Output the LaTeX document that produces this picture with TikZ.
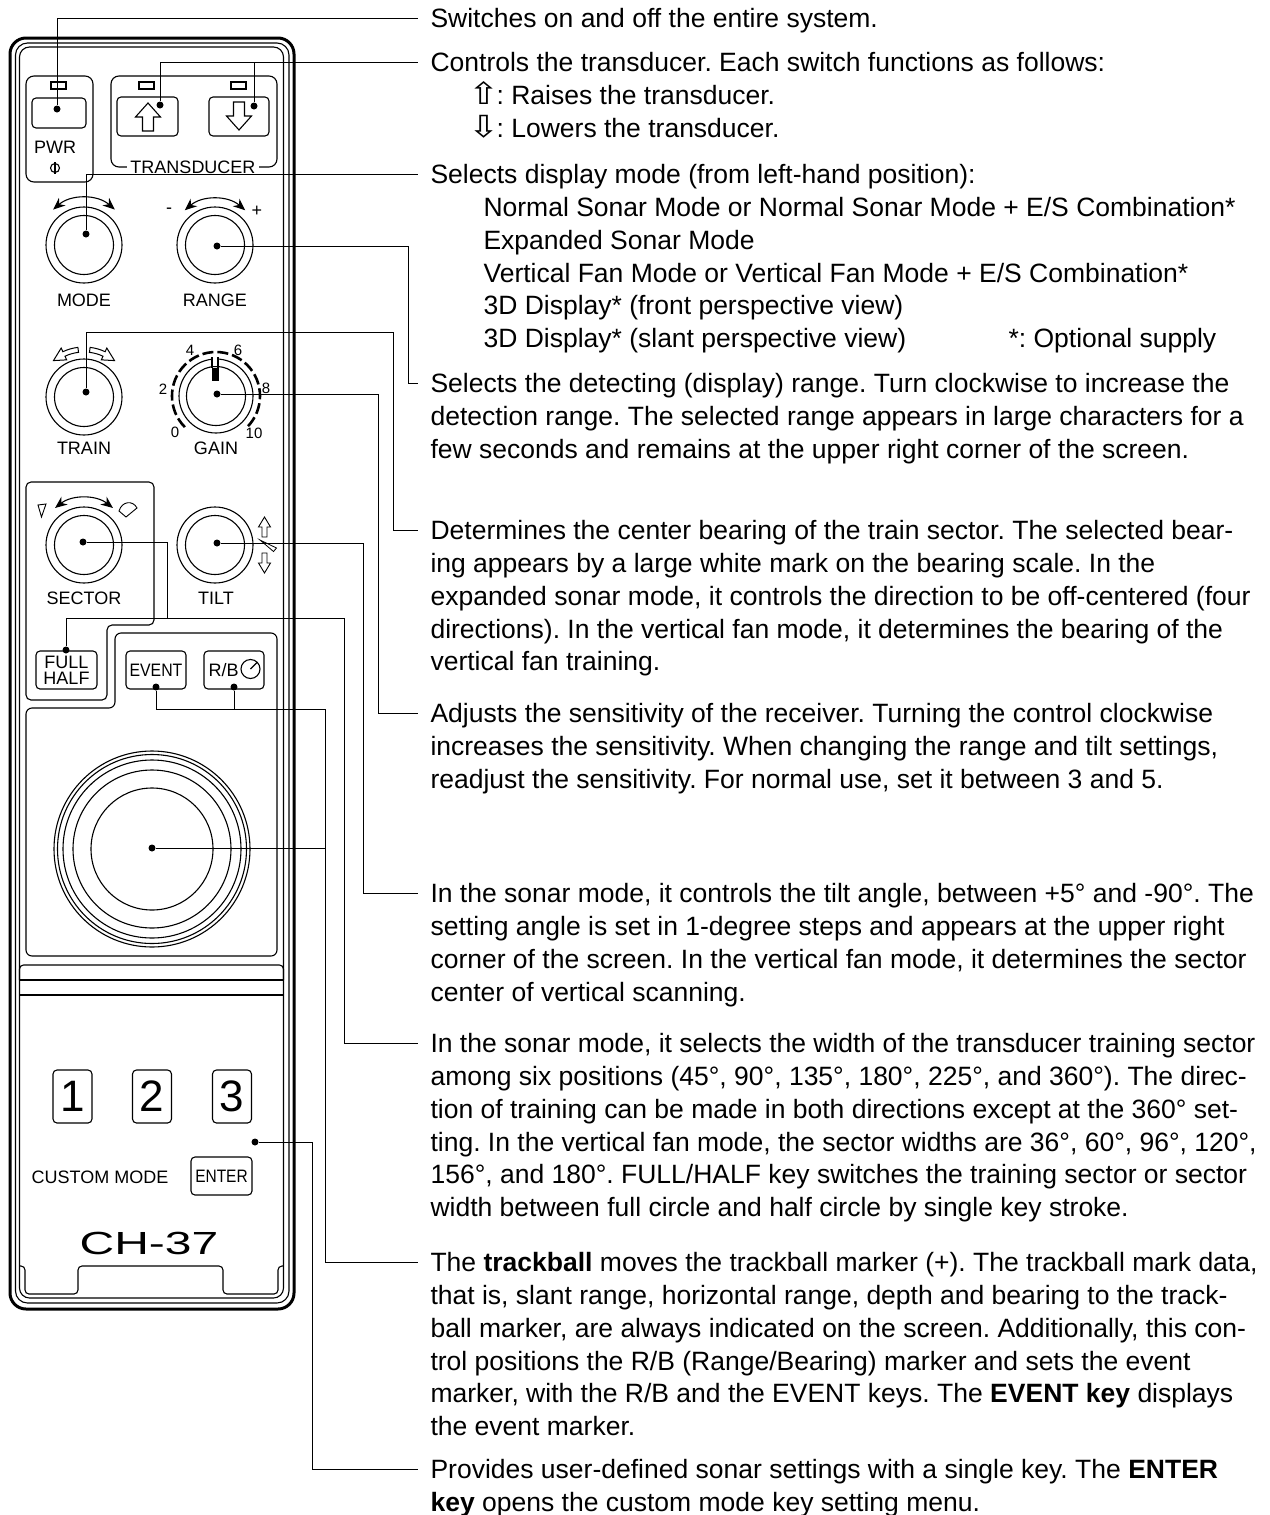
\documentclass[tikz,border=0pt]{standalone}
\usepackage{fontspec}
\setmainfont{Liberation Sans}
\newfontfamily\dejavu{DejaVu Sans}
\usetikzlibrary{arrows.meta,positioning}
\newcommand\lblfont{\fontsize{18}{16}\selectfont}
\newcommand\numfont{\fontsize{15}{15}\selectfont}
\newcommand\bigfont{\fontsize{44}{44}\selectfont}
\newcommand\modelfont{\fontsize{32}{32}\selectfont}
\newcommand\infofont{\fontsize{26.5}{32.8}\selectfont}
\newcommand\uparr{\scalebox{1.4}[1.15]{\dejavu ⇧}\kern-3pt}
\newcommand\downarr{\scalebox{1.4}[1.15]{\dejavu ⇩}\kern-3pt}
\frenchspacing

\begin{document}
\begin{tikzpicture}[x=1pt,y=-1pt,line width=1.1pt,
    dot/.style={circle,fill,inner sep=0pt,minimum size=7pt},
    key/.style={draw,rounded corners=4pt,inner sep=0pt,font=\lblfont},
    led/.style={draw,inner sep=0pt,minimum width=15pt,minimum height=7pt},
    lbl/.style={inner sep=0pt,font=\lblfont},
    num/.style={inner sep=0pt,font=\numfont},
    info/.style={anchor=north west,align=left,inner sep=0pt,font=\infofont},
    lead/.style={line width=1pt},
    turn/.style={{Stealth[length=12pt,width=10pt]}-{Stealth[length=12pt,width=10pt]}}]
  \useasboundingbox (0,0) rectangle (1269,1515);

  % casing
  \draw[line width=3pt,rounded corners=16pt] (10,38) rectangle (294,1309);
  \draw[rounded corners=12pt] (15.5,43) rectangle (289,1303);
  \draw[rounded corners=10pt] (19.5,47) rectangle (283.5,1298);
  \draw[rounded corners=4pt] (19.5,1266) -- (25,1266) -- (25,1294) -- (78,1294) -- (78,1266)
    -- (223,1266) -- (223,1294) -- (278,1294) -- (278,1266) -- (283.5,1266);
  \draw[rounded corners=4pt] (19.5,980) -- (19.5,965) -- (283.5,965) -- (283.5,980);
  \draw (19.5,980) -- (283.5,980) (19.5,995) -- (283.5,995);

  % power and transducer
  \draw[rounded corners=8pt] (26,76) rectangle (93,182);
  \node[led] (ledPwr) at (58.5,85.5) {};
  \node[key,minimum width=54pt,minimum height=30pt] (pwr) at (59,113) {};
  \node[lbl] (lPwr) at (55,147) {PWR};
  \draw (55,168) circle[radius=4.5];
  \draw[line width=1.5pt] (55,162) -- (55,174);
  \draw[rounded corners=8pt] (111,76) rectangle (277,167);
  \node[lbl,fill=white,inner xsep=3pt] (lTd) at (193,167) {TRANSDUCER};
  \node[led] (ledUp) at (146.5,85.5) {};
  \node[led] (ledDown) at (238.5,85.5) {};
  \node[key,minimum width=61pt,minimum height=39pt] (up) at (147.5,116.5) {};
  \node[key,minimum width=60pt,minimum height=39pt] (down) at (239,116.5) {};
  \draw (148,103) -- (160.5,117) -- (153.5,117) -- (153.5,131) -- (142.5,131) -- (142.5,117) -- (135.5,117) -- cycle;
  \draw (239,130) -- (251.5,116) -- (244.5,116) -- (244.5,102) -- (233.5,102) -- (233.5,116) -- (226.5,116) -- cycle;

  % knobs
  \foreach \cx/\cy/\ro in {84/245/38, 215/245/38, 84/397/38, 216/396/37, 84/545/38, 215/545/38}
    \draw (\cx,\cy) circle[radius=\ro] circle[radius=29.5];
  \node[lbl] (lMode) at (84,300) {MODE};
  \node[lbl] (lRange) at (215,300) {RANGE};
  \node[lbl] (lTrain) at (84,448) {TRAIN};
  \node[lbl] (lGain) at (216,448) {GAIN};
  \node[lbl] (lSector) at (84,598) {SECTOR};
  \node[lbl] (lTilt) at (216,598) {TILT};
  \draw[turn] ([shift={(-131:47)}]84,245) arc[start angle=-131,end angle=-49,radius=47];
  \draw[turn] ([shift={(-131:46)}]215,245) arc[start angle=-131,end angle=-49,radius=46];
  \node[lbl] (minus) at (169,211) {-};
  \node[lbl] (plus) at (257,211) {+};
  \draw[turn] ([shift={(-128:47)}]84,545) arc[start angle=-128,end angle=-52,radius=47];

  % train arrows
  \begin{scope}[shift={(84,397)},line width=1pt]
    \draw (-97:45) arc[start angle=-97,end angle=-115,radius=45] -- (-115:41) -- (-130:47.5)
      -- (-115:54) -- (-115:50) arc[start angle=-115,end angle=-97,radius=50] -- cycle;
    \draw (-83:45) arc[start angle=-83,end angle=-65,radius=45] -- (-65:41) -- (-50:47.5)
      -- (-65:54) -- (-65:50) arc[start angle=-65,end angle=-83,radius=50] -- cycle;
  \end{scope}

  % gain scale
  \draw[line width=2.6pt,dash pattern=on 11pt off 4pt] ([shift={(135:44)}]216,396) arc[start angle=135,end angle=405,radius=44];
  \fill[white] (212.6,355) rectangle (217.4,366);
  \draw (212,357) -- (212,368) (218,357) -- (218,368);
  \fill (212,368) rectangle (219,381);
  \node[num] (g0) at (175,432) {0};
  \node[num] (g2) at (163,389) {2};
  \node[num] (g4) at (190,350) {4};
  \node[num] (g6) at (238,350) {6};
  \node[num] (g8) at (266,388) {8};
  \node[num] (g10) at (254,433) {10};

  % sector and tilt
  \draw[rounded corners=5pt] (26,482) -- (154,482) -- (154,625) -- (107,625) -- (107,700) -- (26,700) -- cycle;
  \draw[line width=0.9pt] (38,505) -- (46,504) -- (41.5,517) -- cycle;
  \draw[line width=0.9pt] (119,511) .. controls (122,501) and (133,500) .. (137,508) -- (126,517) -- cycle;
  \draw[line width=0.9pt] (264.5,517) -- (270.5,527) -- (267,527) -- (267,537) -- (262,537) -- (262,527) -- (258.5,527) -- cycle;
  \draw[line width=0.9pt] (264.5,573) -- (270.5,563) -- (267,563) -- (267,553) -- (262,553) -- (262,563) -- (258.5,563) -- cycle;
  \draw[line width=0.8pt] (260,540) -- (276.5,548) -- (273.5,551.5) -- cycle;
  \node[key,minimum width=61pt,minimum height=38pt,align=center] (full) at (66.5,670) {FULL\\HALF};

  % event, r/b and trackball
  \draw[rounded corners=6pt] (26,956) -- (26,708) -- (115,708) -- (115,633) -- (277,633) -- (277,956) -- cycle;
  \node[key,minimum width=60pt,minimum height=38pt] (event) at (156,670) {\scalebox{0.88}[1]{EVENT}};
  \node[key,minimum width=60pt,minimum height=38pt] (rb) at (234,670) {};
  \node[lbl,anchor=west] (lRb) at (208,670) {R/B};
  \draw (250.5,669) circle[radius=9.5];
  \draw (250.5,669) -- ++(-45:9.5);
  \foreach \r in {98,94.5,89,79,61}
    \draw (152,849) circle[radius=\r];

  % custom mode
  \foreach \k/\cx in {1/72.5,2/152,3/232}
    \node[key,font=\bigfont,minimum width=39pt,minimum height=53pt] (k\k) at (\cx,1096.5) {\k};
  \node[lbl] (lCustom) at (100,1177) {CUSTOM MODE};
  \node[key,minimum width=61pt,minimum height=38pt] (enter) at (221.5,1176) {\scalebox{0.86}[1]{ENTER}};
  \node[inner sep=0pt,font=\modelfont] (model) at (149,1243) {\scalebox{1.5}[1]{CH-37}};

  % dots
  \node[dot] (dPwr) at (57,109) {};
  \node[dot] (dUp) at (160,105) {};
  \node[dot] (dDown) at (254,106) {};
  \node[dot] (dMode) at (86,234) {};
  \node[dot] (dRange) at (217,246) {};
  \node[dot] (dTrain) at (86,392) {};
  \node[dot] (dGain) at (217,394) {};
  \node[dot] (dSector) at (83,542) {};
  \node[dot] (dTilt) at (217,543) {};
  \node[dot] (dFull) at (66,650) {};
  \node[dot] (dEvent) at (156,687) {};
  \node[dot] (dRb) at (234,687) {};
  \node[dot] (dBall) at (152,848) {};
  \node[dot] (dCustom) at (255,1142) {};

  % leader ends and bends
  \coordinate (ePwr) at (418,18);
  \coordinate (eTd) at (418,62);
  \coordinate (eMode) at (418,174);
  \coordinate (eRange) at (418,383);
  \coordinate (eTrain) at (418,530);
  \coordinate (eGain) at (418,713);
  \coordinate (eTilt) at (418,893);
  \coordinate (eSector) at (418,1043);
  \coordinate (eEvent) at (418,1262);
  \coordinate (eCustom) at (418,1469);
  \coordinate (bTrain) at (393,332);
  \coordinate (jSector) at (167,618);
  \coordinate (bSector) at (344,618);
  \coordinate (bEvent) at (325,709);

  \draw[lead] (dPwr) |- (ePwr);
  \draw[lead] (dUp) |- (eTd);
  \draw[lead] (dDown) -- (dDown |- eTd);
  \draw[lead] (dMode) |- (eMode);
  \draw[lead] (dRange) -| ([xshift=-10pt]eRange) -- (eRange);
  \draw[lead] (dTrain) |- (bTrain) |- (eTrain);
  \draw[lead] (dGain) -| ([xshift=-40pt]eGain) -- (eGain);
  \draw[lead] (dTilt) -| ([xshift=-55pt]eTilt) -- (eTilt);
  \draw[lead] (dSector) -| (jSector);
  \draw[lead] (dFull) |- (bSector) |- (eSector);
  \draw[lead] (dEvent) |- (bEvent) |- (eEvent);
  \draw[lead] (dRb) -- (dRb |- bEvent);
  \draw[lead] (dBall) -- (dBall -| bEvent);
  \draw[lead] (dCustom) -| ([xshift=-106pt]eCustom) -- (eCustom);

  % descriptions
  \node[info] (tPwr) at ([xshift=12pt,yshift=10pt]ePwr) {Switches on and off the entire system.};
  \node[info] (tTd) at ([xshift=12pt,yshift=10pt]eTd) {Controls the transducer. Each switch functions as follows:\\
    \hspace*{38pt}\uparr: Raises the transducer.\\
    \hspace*{38pt}\downarr: Lowers the transducer.};
  \node[info] (tMode) at ([xshift=12pt,yshift=10pt]eMode) {Selects display mode (from left-hand position):\\
    \hspace*{53pt}Normal Sonar Mode or Normal Sonar Mode + E/S Combination*\\
    \hspace*{53pt}Expanded Sonar Mode\\
    \hspace*{53pt}Vertical Fan Mode or Vertical Fan Mode + E/S Combination*\\
    \hspace*{53pt}3D Display* (front perspective view)\\
    \hspace*{53pt}\makebox[525pt][l]{3D Display* (slant perspective view)}*: Optional supply};
  \node[info] (tRange) at ([xshift=12pt,yshift=10pt]eRange) {Selects the detecting (display) range. Turn clockwise to increase the\\
    detection range. The selected range appears in large characters for a\\
    few seconds and remains at the upper right corner of the screen.};
  \node[info] (tTrain) at ([xshift=12pt,yshift=10pt]eTrain) {Determines the center bearing of the train sector. The selected bear-\\
    ing appears by a large white mark on the bearing scale. In the\\
    expanded sonar mode, it controls the direction to be off-centered (four\\
    directions). In the vertical fan mode, it determines the bearing of the\\
    vertical fan training.};
  \node[info] (tGain) at ([xshift=12pt,yshift=10pt]eGain) {Adjusts the sensitivity of the receiver. Turning the control clockwise\\
    increases the sensitivity. When changing the range and tilt settings,\\
    readjust the sensitivity. For normal use, set it between 3 and 5.};
  \node[info] (tTilt) at ([xshift=12pt,yshift=10pt]eTilt) {In the sonar mode, it controls the tilt angle, between +5° and -90°. The\\
    setting angle is set in 1-degree steps and appears at the upper right\\
    corner of the screen. In the vertical fan mode, it determines the sector\\
    center of vertical scanning.};
  \node[info] (tSector) at ([xshift=12pt,yshift=10pt]eSector) {In the sonar mode, it selects the width of the transducer training sector\\
    among six positions (45°, 90°, 135°, 180°, 225°, and 360°). The direc-\\
    tion of training can be made in both directions except at the 360° set-\\
    ting. In the vertical fan mode, the sector widths are 36°, 60°, 96°, 120°,\\
    156°, and 180°. FULL/HALF key switches the training sector or sector\\
    width between full circle and half circle by single key stroke.};
  \node[info] (tEvent) at ([xshift=12pt,yshift=10pt]eEvent) {The \textbf{trackball} moves the trackball marker (+). The trackball mark data,\\
    that is, slant range, horizontal range, depth and bearing to the track-\\
    ball marker, are always indicated on the screen. Additionally, this con-\\
    trol positions the R/B (Range/Bearing) marker and sets the event\\
    marker, with the R/B and the EVENT keys. The \textbf{EVENT key} displays\\
    the event marker.};
  \node[info] (tCustom) at ([xshift=12pt,yshift=10pt]eCustom) {Provides user-defined sonar settings with a single key. The \textbf{ENTER}\\
    \textbf{key} opens the custom mode key setting menu.};
\end{tikzpicture}
\end{document}
